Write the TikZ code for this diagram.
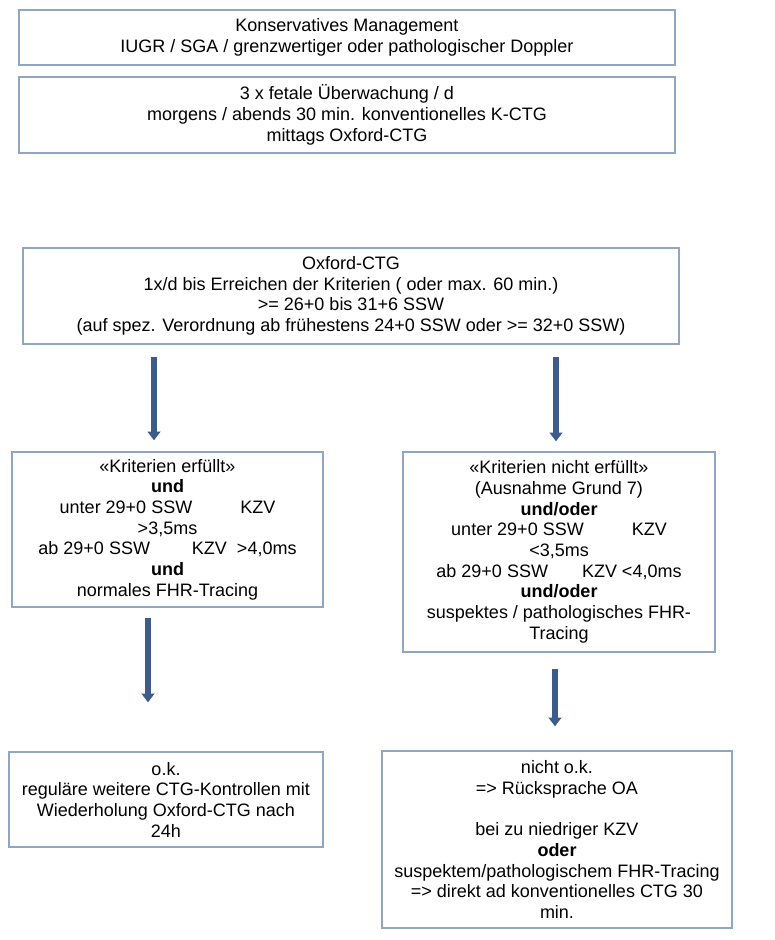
\documentclass[tikz,border=0pt]{standalone}
\usepackage{fontspec}
\setmainfont{Liberation Sans}
\usepackage{tikz}
\usetikzlibrary{arrows.meta}
\definecolor{rahmen}{HTML}{8FA7C4}
\definecolor{pfeilblau}{HTML}{3D5C89}

\begin{document}
\begin{tikzpicture}[
  box/.style={draw=rahmen, line width=1pt, align=center, inner sep=0pt,
    font=\fontsize{12.8}{14.7}\selectfont},
  pfeil/.style={draw=pfeilblau, line width=4.3pt,
    -{Triangle[width=0.32cm,length=0.22cm]}}]
\useasboundingbox (0,0) rectangle (19.375,-23.5);

\node[box, minimum width=16.4cm, minimum height=1.375cm] (kons) at (8.675,-0.9375)
  {Konservatives Management\\IUGR / SGA / grenzwertiger oder pathologischer Doppler};
\node[box, minimum width=16.4cm, minimum height=1.9cm] (ueb) at (8.675,-2.875)
  {3 x fetale Überwachung / d\\morgens / abends 30 min. konventionelles K-CTG\\mittags Oxford-CTG};
\node[box, minimum width=16.4cm, minimum height=2.4cm] (oxf) at (8.775,-7.4)
  {Oxford-CTG\\1x/d bis Erreichen der Kriterien ( oder max. 60 min.)\\>= 26+0 bis 31+6 SSW\\(auf spez. Verordnung ab frühestens 24+0 SSW oder >= 32+0 SSW)};
\node[box, minimum width=7.775cm, minimum height=3.875cm] (erf) at (4.1875,-13.2375)
  {«Kriterien erfüllt»\\\textbf{und}\\unter 29+0 SSW\hspace{1.2cm}KZV\\>3,5ms\\ab 29+0 SSW\hspace{1.05cm}KZV~~>4,0ms\\\textbf{und}\\normales FHR-Tracing};
\node[box, minimum width=7.8cm, minimum height=5cm] (nerf) at (13.975,-13.8)
  {«Kriterien nicht erfüllt»\\(Ausnahme Grund 7)\\\textbf{und/oder}\\unter 29+0 SSW\hspace{1.2cm}KZV\\<3,5ms\\ab 29+0 SSW\hspace{0.85cm}KZV <4,0ms\\\textbf{und/oder}\\suspektes / pathologisches FHR-\\Tracing};
\node[box, minimum width=7.85cm, minimum height=2.375cm] (ok) at (4.15,-19.9875)
  {o.k.\\reguläre weitere CTG-Kontrollen mit\\Wiederholung Oxford-CTG nach\\24h};
\node[box, minimum width=8.75cm, minimum height=4.425cm] (nok) at (13.925,-20.9875)
  {nicht o.k.\\=> Rücksprache OA\\[14.7pt]bei zu niedriger KZV\\\textbf{oder}\\suspektem/pathologischem FHR-Tracing\\=> direkt ad konventionelles CTG 30\\min.};

% Pfeile
\coordinate (p1) at (3.85,0);
\coordinate (p2) at (13.9,0);
\coordinate (p3) at (3.7,0);
\coordinate (p4) at (13.875,0);
\draw[pfeil, shorten <=0.3cm, shorten >=0.275cm] (oxf.south -| p1) -- (erf.north -| p1);
\draw[pfeil, shorten <=0.3cm, shorten >=0.25cm] (oxf.south -| p2) -- (nerf.north -| p2);
\draw[pfeil, shorten <=0.25cm, shorten >=1.225cm] (erf.south -| p3) -- (ok.north -| p3);
\draw[pfeil, shorten <=0.4cm, shorten >=0.6cm] (nerf.south -| p4) -- (nok.north -| p4);
\end{tikzpicture}
\end{document}
